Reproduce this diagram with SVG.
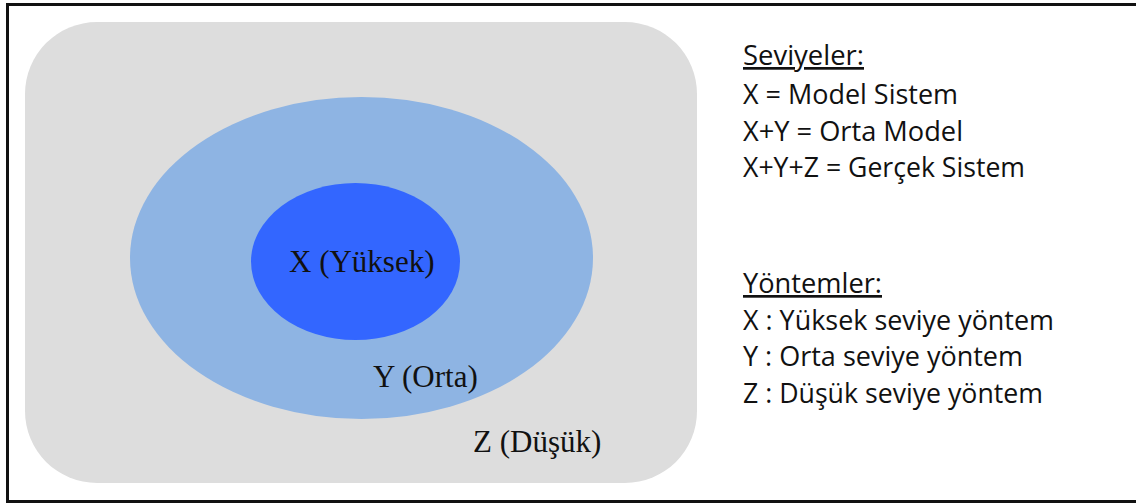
<svg xmlns="http://www.w3.org/2000/svg" width="1136" height="504" viewBox="0 0 1136 504">
  <style>
    .lbl { font-family: "Liberation Serif", "Times New Roman", serif; font-size: 31px; fill: #111; }
    .leg { font-family: "Open Sans", "Liberation Sans", sans-serif; font-size: 27px; fill: #111; }
    .u { text-decoration: underline; }
  </style>
  <rect x="0" y="0" width="1136" height="504" fill="#ffffff"/>
  <rect id="frame" x="7.5" y="4.5" width="1140" height="497" fill="none" stroke="#111" stroke-width="3"/>
  <g id="Z">
    <rect x="25" y="22" width="672" height="461" rx="72" ry="72" fill="#DDDDDD"/>
    <text class="lbl" x="473" y="452">Z (Düşük)</text>
  </g>
  <g id="Y">
    <ellipse cx="361.5" cy="258" rx="231.5" ry="161" fill="#8EB4E3"/>
    <text class="lbl" x="373" y="387">Y (Orta)</text>
  </g>
  <g id="X">
    <ellipse cx="355.5" cy="261.5" rx="104.5" ry="78.5" fill="#3366FF"/>
    <text class="lbl" x="289" y="272">X (Yüksek)</text>
  </g>
  <g id="legend-seviyeler">
    <text class="leg u" x="743" y="65" textLength="121" lengthAdjust="spacingAndGlyphs">Seviyeler:</text>
    <text class="leg" x="743" y="104" textLength="215" lengthAdjust="spacingAndGlyphs">X = Model Sistem</text>
    <text class="leg" x="743" y="141" textLength="220" lengthAdjust="spacingAndGlyphs">X+Y = Orta Model</text>
    <text class="leg" x="743" y="177" textLength="282" lengthAdjust="spacingAndGlyphs">X+Y+Z = Gerçek Sistem</text>
  </g>
  <g id="legend-yontemler">
    <text class="leg u" x="743" y="293" textLength="139" lengthAdjust="spacingAndGlyphs">Yöntemler:</text>
    <text class="leg" x="743" y="330" textLength="311" lengthAdjust="spacingAndGlyphs">X : Yüksek seviye yöntem</text>
    <text class="leg" x="743" y="366" textLength="280" lengthAdjust="spacingAndGlyphs">Y : Orta seviye yöntem</text>
    <text class="leg" x="743" y="403" textLength="300" lengthAdjust="spacingAndGlyphs">Z : Düşük seviye yöntem</text>
  </g>
  <g id="connectors"/>
</svg>
